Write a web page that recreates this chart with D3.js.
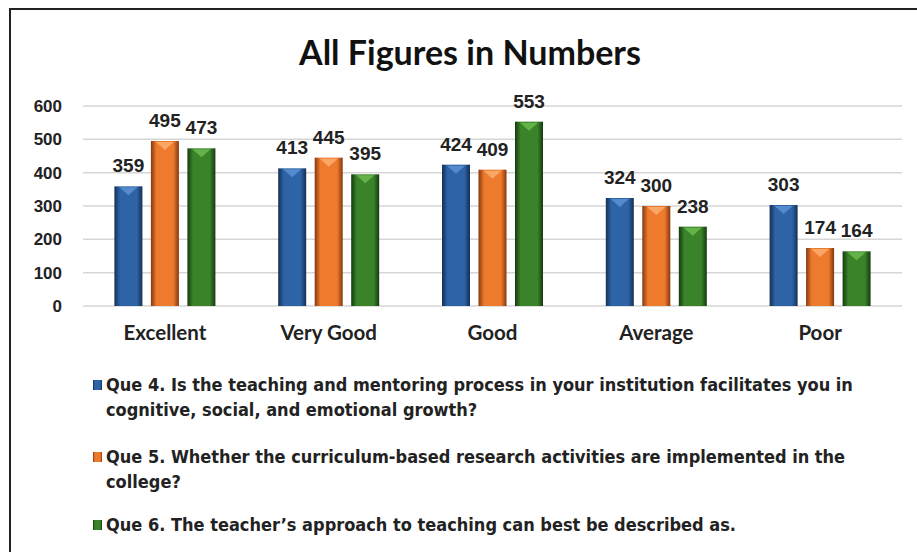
<!DOCTYPE html>
<html>
<head>
<meta charset="utf-8">
<script src="https://cdn.jsdelivr.net/npm/d3@7"></script>
<style>
  body { margin: 0; background: #fff; }
  svg { display: block; }
</style>
</head>
<body>
<div id="chart"><svg width="917" height="552"></svg></div>
<script>
const categories = ["Excellent", "Very Good", "Good", "Average", "Poor"];
const seriesNames = ["Que 4", "Que 5", "Que 6"];
const que4 = [359, 413, 424, 324, 303];
const que5 = [495, 445, 409, 300, 174];
const que6 = [473, 395, 553, 238, 164];
const yTicks = [0, 100, 200, 300, 400, 500, 600];
const legendLines = [
  ["Que 4. Is the teaching and mentoring process in your institution facilitates you in",
   "cognitive, social, and emotional growth?"],
  ["Que 5. Whether the curriculum-based research activities are implemented in the",
   "college?"],
  ["Que 6.  The teacher\u2019s approach to teaching can best be described as."],
];

const colors = [
  { dark: "#142f55", mid: "#2e63a6", light: "#5a8fd0" },
  { dark: "#84380c", mid: "#ee7a2e", light: "#fbab6c" },
  { dark: "#143a10", mid: "#3a8329", light: "#68b84c" },
];

const svg = d3.select("#chart").select("svg");
const plotLeft = 83, plotRight = 902, plotTop = 106, plotBottom = 306;

// frame
svg.append("rect")
  .attr("x", 10).attr("y", 9)
  .attr("width", 940).attr("height", 560)
  .attr("fill", "none").attr("stroke", "#222").attr("stroke-width", 2);

svg.append("text")
  .attr("x", 470).attr("y", 65)
  .attr("text-anchor", "middle")
  .style("font-family", "Lato, 'Open Sans', sans-serif")
  .style("font-weight", "bold")
  .style("font-size", "34px")
  .style("fill", "#111")
  .text("All Figures in Numbers");

const y = d3.scaleLinear().domain([0, 600]).range([plotBottom, plotTop]);
const x0 = d3.scaleBand().domain(categories).range([plotLeft, plotRight]);
const half = 50.5;
const x1 = d3.scaleBand().domain(seriesNames)
  .range([x0.bandwidth() / 2 - half, x0.bandwidth() / 2 + half])
  .paddingInner(0.233);

// gridlines
svg.append("g")
  .selectAll("line")
  .data(yTicks)
  .join("line")
  .attr("x1", plotLeft).attr("x2", plotRight)
  .attr("y1", d => y(d)).attr("y2", d => y(d))
  .attr("stroke", "#d6d6d6").attr("stroke-width", 1.5);

// y axis labels
const yAxis = d3.axisLeft(y).tickValues(yTicks).tickSize(0).tickPadding(0);
const yg = svg.append("g").attr("transform", `translate(62,0)`).call(yAxis);
yg.select(".domain").remove();
yg.selectAll("text")
  .style("font-family", "'Liberation Sans', Arial, sans-serif")
  .style("font-weight", "bold")
  .style("font-size", "17px")
  .style("fill", "#222");

// x axis labels
const xAxis = d3.axisBottom(x0).tickSize(0).tickPadding(0);
const xg = svg.append("g").attr("transform", `translate(0,${plotBottom + 19})`).call(xAxis);
xg.select(".domain").remove();
xg.selectAll("text")
  .style("font-family", "Lato, 'Open Sans', sans-serif")
  .style("font-weight", "bold")
  .style("font-size", "20.5px")
  .style("fill", "#222");

// gradients
const defs = svg.append("defs");
colors.forEach((c, i) => {
  const g = defs.append("linearGradient").attr("id", "grad" + i)
    .attr("x1", "0").attr("x2", "1").attr("y1", "0").attr("y2", "0");
  g.append("stop").attr("offset", "0%").attr("stop-color", c.dark);
  g.append("stop").attr("offset", "20%").attr("stop-color", c.mid);
  g.append("stop").attr("offset", "50%").attr("stop-color", c.mid);
  g.append("stop").attr("offset", "80%").attr("stop-color", c.mid);
  g.append("stop").attr("offset", "100%").attr("stop-color", c.dark);
});

const series = [que4, que5, que6];
const rows = [];
categories.forEach((cat, ci) => {
  series.forEach((vals, si) => {
    rows.push({ cat, name: seriesNames[si], si, value: vals[ci] });
  });
});

const groups = svg.append("g").selectAll("g")
  .data(rows)
  .join("g")
  .attr("transform", d => `translate(${x0(d.cat) + x1(d.name)},0)`);

groups.append("rect")
  .attr("x", 0)
  .attr("y", d => y(d.value))
  .attr("width", x1.bandwidth())
  .attr("height", d => plotBottom - y(d.value))
  .attr("fill", d => `url(#grad${d.si})`);

// top bevel highlight
groups.append("path")
  .attr("d", d => {
    const w = x1.bandwidth(), t = y(d.value);
    return `M5,${t + 1} L${w - 5},${t + 1} L${w / 2},${t + 9} Z`;
  })
  .attr("fill", d => colors[d.si].light)
  .attr("opacity", 0.9);

groups.append("text")
  .attr("x", x1.bandwidth() / 2)
  .attr("y", d => y(d.value) - 14)
  .attr("text-anchor", "middle")
  .style("font-family", "'Liberation Sans', Arial, sans-serif")
  .style("font-weight", "bold")
  .style("font-size", "19px")
  .style("fill", "#222")
  .text(d => d.value);

// legend
const legendY = [385, 457, 525];
const legend = svg.append("g");
legendLines.forEach((lines, i) => {
  const gy = legendY[i];
  legend.append("rect")
    .attr("x", 93).attr("y", gy - 5)
    .attr("width", 9).attr("height", 10)
    .attr("fill", `url(#grad${i})`);
  lines.forEach((ln, j) => {
    legend.append("text")
      .attr("x", 106).attr("y", gy + 6 + j * 25)
      .style("font-family", "'Liberation Sans Narrow', 'DejaVu Sans Condensed', sans-serif")
      .style("font-weight", "bold")
      .style("font-size", "18px")
      .style("fill", "#222")
      .text(ln);
  });
});
</script>
</body>
</html>
